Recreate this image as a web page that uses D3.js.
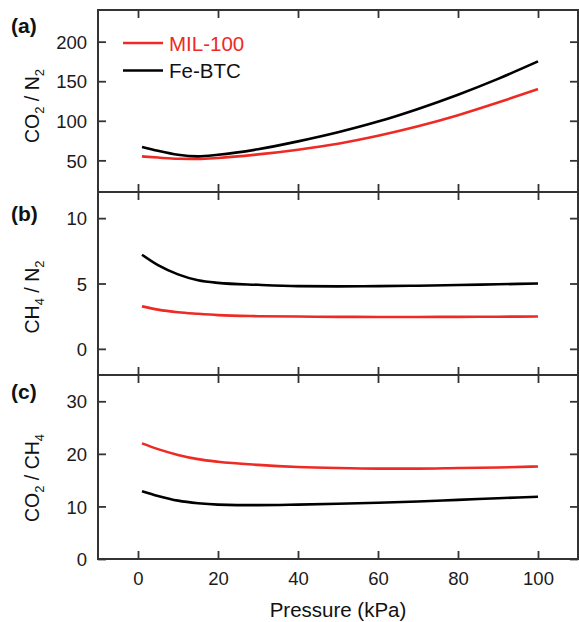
<!DOCTYPE html>
<html>
<head>
<meta charset="utf-8">
<script src="https://cdn.jsdelivr.net/npm/d3@7"></script>
<style>
  html, body { margin: 0; padding: 0; background: #fff; }
  svg { display: block; font-family: "Liberation Sans", Arial, sans-serif; }
</style>
</head>
<body>
<svg id="chart" width="579" height="622"></svg>
<script>
// Pressure points (kPa) shared by every series
const pressure = [1, 5, 10, 15, 20, 30, 40, 50, 60, 70, 80, 90, 100];

// (a) CO2 / N2 selectivity
const co2n2_MIL = [55, 53.5, 52, 51.8, 53, 57.5, 63.5, 71, 81, 93, 107, 123, 140];
const co2n2_Fe  = [67, 62, 57, 55, 57, 64, 74, 85.5, 99, 115, 133, 153, 175];

// (b) CH4 / N2 selectivity
const ch4n2_MIL = [3.25, 3.0, 2.8, 2.68, 2.58, 2.5, 2.47, 2.45, 2.44, 2.44, 2.45, 2.46, 2.47];
const ch4n2_Fe  = [7.2, 6.4, 5.7, 5.25, 5.05, 4.9, 4.8, 4.78, 4.8, 4.83, 4.88, 4.94, 5.0];

// (c) CO2 / CH4 selectivity
const co2ch4_MIL = [22, 20.9, 19.8, 19.0, 18.5, 17.9, 17.5, 17.3, 17.2, 17.2, 17.3, 17.4, 17.6];
const co2ch4_Fe  = [12.9, 12.0, 11.1, 10.6, 10.35, 10.25, 10.35, 10.5, 10.7, 10.95, 11.25, 11.55, 11.85];

const xTicks = [0, 20, 40, 60, 80, 100];
const seriesNames = ["MIL-100", "Fe-BTC"];
const seriesColors = ["#ee2a24", "#000000"];

const panels = [
  { tag: "(a)", domain: [10, 240], ticks: [50, 100, 150, 200], title: ["CO", "2", " / N", "2"],
    series: [co2n2_MIL, co2n2_Fe], top: 10, bottom: 192, titleY: 106 },
  { tag: "(b)", domain: [-2, 12], ticks: [0, 5, 10], title: ["CH", "4", " / N", "2"],
    series: [ch4n2_MIL, ch4n2_Fe], top: 192, bottom: 375, titleY: 297 },
  { tag: "(c)", domain: [0, 35], ticks: [0, 10, 20, 30], title: ["CO", "2", " / CH", "4"],
    series: [co2ch4_MIL, co2ch4_Fe], top: 375, bottom: 559, titleY: 478 }
];

const svg = d3.select("#chart");
const left = 98, right = 578;
const x = d3.scaleLinear().domain([-10, 110]).range([left, right]);
const frameColor = "#333";
const tickLen = 8;

panels.forEach((p, i) => {
  const y = d3.scaleLinear().domain(p.domain).range([p.bottom, p.top]);
  const g = svg.append("g");

  // data lines
  const line = d3.line().x((d, k) => x(pressure[k])).y(d => y(d)).curve(d3.curveMonotoneX);
  p.series.forEach((s, j) => {
    g.append("path").datum(s)
      .attr("d", line)
      .attr("fill", "none")
      .attr("stroke", seriesColors[j])
      .attr("stroke-width", 2.6)
      .attr("stroke-linejoin", "round");
  });

  // inward ticks on all four sides
  const axes = [
    d3.axisBottom(x).tickValues(xTicks).tickSizeInner(-tickLen).tickSizeOuter(0).tickFormat(i === 2 ? d3.format("d") : ""),
    d3.axisTop(x).tickValues(xTicks).tickSizeInner(-tickLen).tickSizeOuter(0).tickFormat(""),
    d3.axisLeft(y).tickValues(p.ticks).tickSizeInner(-tickLen).tickSizeOuter(0).tickFormat(d3.format("d")),
    d3.axisRight(y).tickValues(p.ticks).tickSizeInner(-tickLen).tickSizeOuter(0).tickFormat("")
  ];
  const pos = [
    `translate(0,${p.bottom})`, `translate(0,${p.top})`,
    `translate(${left},0)`, `translate(${right},0)`
  ];
  axes.forEach((ax, k) => {
    const a = g.append("g").attr("transform", pos[k]).call(ax);
    a.select(".domain").remove();
    a.selectAll("line").attr("stroke", frameColor).attr("stroke-width", 1.8);
    a.selectAll("text").attr("fill", "#1a1a1a").style("font-size", "18.5px")
      .style("font-family", "'Liberation Sans', Arial, sans-serif");
    if (k === 2) a.selectAll("text").attr("x", -11).attr("dy", "0.36em");
    if (k === 0) a.selectAll("text").attr("y", 13).attr("dy", "0.71em");
  });

  // frame
  g.append("rect")
    .attr("x", left).attr("y", p.top)
    .attr("width", right - left).attr("height", p.bottom - p.top)
    .attr("fill", "none").attr("stroke", frameColor).attr("stroke-width", 2);

  // panel tag
  svg.append("text")
    .attr("x", 11).attr("y", [33, 221, 399][i])
    .attr("font-weight", "bold").attr("font-size", 21)
    .attr("fill", "#111")
    .text(p.tag);

  // y title with subscripts
  const t = svg.append("text")
    .attr("transform", `translate(39,${p.titleY}) rotate(-90)`)
    .attr("text-anchor", "middle")
    .attr("font-size", 19.5)
    .attr("fill", "#111");
  p.title.forEach((part, k) => {
    const sub = k % 2 === 1;
    t.append("tspan")
      .text(part)
      .attr("font-size", sub ? 13 : 19.5)
      .attr("dy", sub ? 5 : (k === 0 ? 0 : -5));
  });
});

// legend
const legend = svg.append("g");
seriesNames.forEach((name, j) => {
  const ly = 43 + j * 27.5;
  legend.append("line")
    .attr("x1", 123).attr("x2", 163).attr("y1", ly).attr("y2", ly)
    .attr("stroke", seriesColors[j]).attr("stroke-width", 2.6);
  legend.append("text")
    .attr("x", 169).attr("y", ly + 7.5)
    .attr("font-size", 20.5)
    .attr("fill", seriesColors[j] === "#000000" ? "#111" : seriesColors[j])
    .text(name);
});

// x title
svg.append("text")
  .attr("x", (left + right) / 2).attr("y", 617)
  .attr("text-anchor", "middle")
  .attr("font-size", 20.5)
  .attr("fill", "#111")
  .text("Pressure (kPa)");
</script>
</body>
</html>
